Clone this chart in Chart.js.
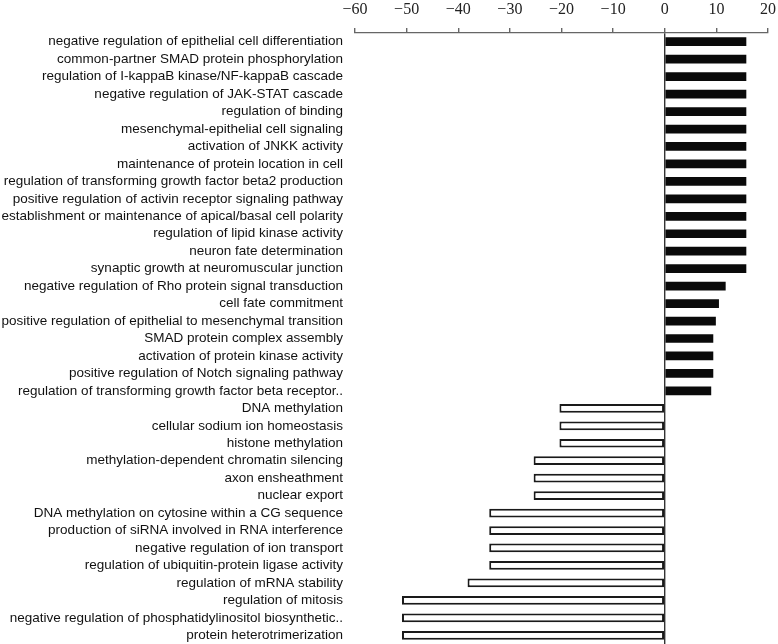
<!DOCTYPE html>
<html>
<head>
<meta charset="utf-8">
<script src="https://cdn.jsdelivr.net/npm/chart.js@4/dist/chart.umd.min.js"></script>
<style>
  html, body { margin: 0; padding: 0; background: #fff; overflow: hidden; }
  canvas { display: block; }
</style>
</head>
<body>
<canvas id="goChart" width="778" height="644"></canvas>
<script>
const terms = [
  "negative regulation of epithelial cell differentiation",
  "common-partner SMAD protein phosphorylation",
  "regulation of I-kappaB kinase/NF-kappaB cascade",
  "negative regulation of JAK-STAT cascade",
  "regulation of binding",
  "mesenchymal-epithelial cell signaling",
  "activation of JNKK activity",
  "maintenance of protein location in cell",
  "regulation of transforming growth factor beta2 production",
  "positive regulation of activin receptor signaling pathway",
  "establishment or maintenance of apical/basal cell polarity",
  "regulation of lipid kinase activity",
  "neuron fate determination",
  "synaptic growth at neuromuscular junction",
  "negative regulation of Rho protein signal transduction",
  "cell fate commitment",
  "positive regulation of epithelial to mesenchymal transition",
  "SMAD protein complex assembly",
  "activation of protein kinase activity",
  "positive regulation of Notch signaling pathway",
  "regulation of transforming growth factor beta receptor..",
  "DNA methylation",
  "cellular sodium ion homeostasis",
  "histone methylation",
  "methylation-dependent chromatin silencing",
  "axon ensheathment",
  "nuclear export",
  "DNA methylation on cytosine within a CG sequence",
  "production of siRNA involved in RNA interference",
  "negative regulation of ion transport",
  "regulation of ubiquitin-protein ligase activity",
  "regulation of mRNA stability",
  "regulation of mitosis",
  "negative regulation of phosphatidylinositol biosynthetic..",
  "protein heterotrimerization"
];

const scores = [
  15.8, 15.8, 15.8, 15.8, 15.8, 15.8, 15.8, 15.8, 15.8, 15.8, 15.8, 15.8, 15.8, 15.8,
  11.8, 10.5, 9.9, 9.4, 9.4, 9.4, 9.0,
  -20.4, -20.4, -20.4,
  -25.4, -25.4, -25.4,
  -34.0, -34.0, -34.0, -34.0,
  -38.2,
  -50.9, -50.9, -50.9
];

const xTicks = [-60, -50, -40, -30, -20, -10, 0, 10, 20];

new Chart(document.getElementById("goChart"), {
  type: "bar",
  data: {
    labels: terms,
    datasets: [
      {
        data: scores,
        backgroundColor: (c) => (c.raw > 0 ? "#0a0a0a" : "#ffffff"),
        borderColor: "#1a1a1a",
        borderWidth: (c) => (c.raw > 0 ? 0 : 2),
        borderSkipped: false,
        barPercentage: 0.5,
        categoryPercentage: 1.0,
      },
    ],
  },
  options: {
    indexAxis: "y",
    responsive: false,
    animation: false,
    layout: { padding: { top: 0, right: 10, bottom: 0, left: 0 } },
    plugins: {
      legend: { display: false },
      tooltip: { enabled: false },
    },
    scales: {
      x: {
        position: "top",
        min: xTicks[0],
        max: xTicks[xTicks.length - 1],
        afterBuildTicks: (scale) => {
          scale.ticks = xTicks.map((v) => ({ value: v }));
        },
        afterFit: (scale) => {
          scale.height = 33;
          scale.paddingLeft = 0;
          scale.paddingRight = 0;
        },
        border: { display: true, color: "#666", width: 1.2 },
        grid: {
          drawOnChartArea: true,
          drawTicks: true,
          tickLength: 5,
          tickColor: "#666",
          color: (c) => (c.tick && c.tick.value === 0 ? "#333" : "rgba(0,0,0,0)"),
          lineWidth: 1.4,
        },
        ticks: {
          padding: 9,
          color: "#222",
          font: { family: "'Liberation Serif', 'DejaVu Serif', serif", size: 16 },
          callback: (v) => String(v).replace("-", "\u2212"),
        },
      },
      y: {
        afterFit: (scale) => {
          scale.width = 355;
          scale.paddingTop = 0;
          scale.paddingBottom = 0;
        },
        border: { display: false },
        grid: { display: false, drawTicks: false },
        ticks: {
          padding: 12,
          autoSkip: false,
          color: "#111",
          font: { family: "'Liberation Sans', Arial, sans-serif", size: 13.5 },
        },
      },
    },
  },
});
</script>
</body>
</html>
